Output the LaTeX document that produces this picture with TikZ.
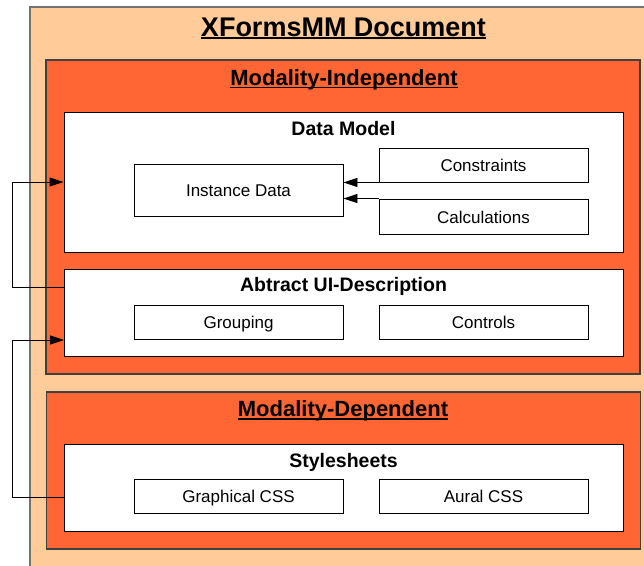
\documentclass[tikz,border=0pt]{standalone}
\usepackage{fontspec}
\setmainfont{Liberation Sans}
\usetikzlibrary{arrows.meta,shadows}

\definecolor{pressec}{RGB}{255,204,153}
\definecolor{taronja}{RGB}{255,102,51}

% text subratllat amb una regla gruixuda
\newcommand{\subratlla}[2]{%
  \setbox0\hbox{#2}%
  \rlap{\rule[-3.2pt]{\wd0}{#1}}\box0}

\begin{document}
\begin{tikzpicture}[
    x=1pt, y=-1pt,
    >={Triangle[length=14pt,width=9pt]},
    caixa/.style={
        draw, line width=0.9pt, fill=white,
        minimum width=209pt, minimum height=34pt,
        inner sep=0pt, text height=14.5pt, text depth=1.5pt,
        font=\fontsize{17}{20}\selectfont,
        drop shadow={shadow xshift=1pt, shadow yshift=-1pt,
                     fill=black!45, opacity=1}
    },
    capa/.style={
        draw, line width=0.9pt, fill=white,
        minimum width=559pt, inner sep=0pt,
        drop shadow={shadow xshift=1pt, shadow yshift=-1pt,
                     fill=black!45, opacity=1}
    },
    modalitat/.style={
        draw=black!75, line width=1.2pt, fill=taronja,
        minimum width=594pt, inner sep=0pt
    },
    titol/.style={anchor=base, font=\fontsize{19.5}{22}\selectfont\bfseries},
    fletxa/.style={->, line width=0.9pt}
]

\useasboundingbox (0,0) rectangle (644,565);

% Document
\node[
    draw=black!55,
    line width=1.5pt,
    fill=pressec,
    minimum width=630pt,
    minimum height=575pt
] (doc) at (345,294.5) {};

\node[
    anchor=base,
    font=\fontsize{27}{30}\selectfont\bfseries
] (doctitol) at (343.5,36) {\subratlla{2pt}{XFormsMM Document}};

% Independent de la modalitat
\node[modalitat, minimum height=314pt] (indep) at (343,217) {};
\node[
    anchor=base,
    font=\fontsize{22}{25}\selectfont\bfseries
] (indeptitol) at (344,85) {\subratlla{1.7pt}{Modality-Independent}};

% Model de dades
\node[capa, minimum height=140pt] (dm) at (343.5,182) {};
\node[titol] (dmtitol) at (343.5,135) {Data Model};

\node[caixa, minimum height=52pt] (inst) at (238.5,190) {Instance Data};
\node[caixa] (constr) at (483.5,165) {Constraints};
\node[caixa, minimum height=35pt] (calc) at (483.5,216.5) {Calculations};

\draw[fletxa] (constr.south west) -- (inst.east |- constr.south west);
\draw[fletxa] (calc.north west) -- (inst.east |- calc.north west);

% Descripcio abstracta de la interficie
\node[capa, minimum height=87pt] (ui) at (343.5,312.5) {};
\node[titol] (uititol) at (343.5,291.5) {Abtract UI-Description};

\node[caixa] (grup) at (238.5,322) {Grouping};
\node[caixa] (ctrl) at (483.5,322) {Controls};

% Dependent de la modalitat
\node[modalitat, minimum height=157pt] (dep) at (343.5,470.5) {};
\node[
    anchor=base,
    font=\fontsize{22}{25}\selectfont\bfseries
] (deptitol) at (343,416.5) {\subratlla{1.7pt}{Modality-Dependent}};

% Fulls d'estil
\node[capa, minimum height=87pt] (estil) at (343.5,487.5) {};
\node[titol] (estiltitol) at (343.5,467) {Stylesheets};

\node[caixa] (graf) at (238.5,496) {Graphical CSS};
\node[caixa] (aural) at (483.5,496) {Aural CSS};

% Connexions del costat esquerre
\coordinate (uisort) at (64,287);
\coordinate (volta1) at (12,287);
\coordinate (estilsort) at (64,497);
\coordinate (volta2) at (12,497);
\coordinate (uientra) at (64,340);

\draw[fletxa] (uisort) -- (volta1) |- (dm.west);
\draw[fletxa] (estilsort) -- (volta2) |- (uientra);

\end{tikzpicture}
\end{document}
